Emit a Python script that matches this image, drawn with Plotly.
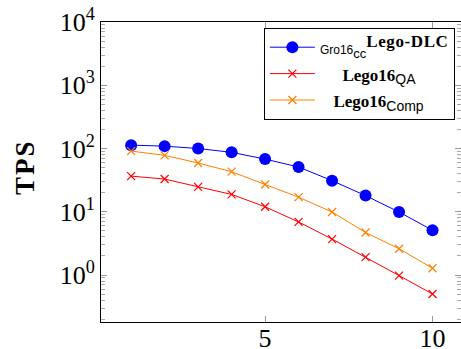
import plotly.graph_objects as go

x_vals = [1, 2, 3, 4, 5, 6, 7, 8, 9, 10]
dlc_tps = [113, 109, 100, 87, 68, 51, 31, 18, 9.9, 5.1]
qa_tps = [36.6, 32.9, 24.8, 18.8, 12.0, 6.9, 3.7, 1.92, 0.98, 0.5]
comp_tps = [91, 78, 59, 43, 27, 17, 9.9, 4.7, 2.6, 1.28]

y_major = [1, 10, 100, 1000, 10000]
y_major_text = ["10<sup>0</sup>", "10<sup>1</sup>", "10<sup>2</sup>", "10<sup>3</sup>", "10<sup>4</sup>"]
x_ticks = [5, 10]

minor_vals = [m * d for d in [0.1, 1, 10, 100, 1000] for m in range(2, 10)]

SANS = "Liberation Sans"
SERIF = "Liberation Serif"
NB = "\u00a0"

name_dlc = (f'<span style="font-family:{SANS};font-size:12px">Gro16</span>'
            f'<sub><span style="font-family:{SANS};font-size:13px">cc</span></sub>'
            f'<sup><span style="font-size:17px;letter-spacing:0.6px"><b>Lego-DLC</b></span></sup>')
name_qa = (NB * 5 + f'<span style="font-size:17px"><b>Lego16</b></span>'
           f'<sub><span style="font-family:{SANS};font-size:14px">QA</span></sub>')
name_comp = (NB * 3 + f'<span style="font-size:17px"><b>Lego16</b></span>'
             f'<sub><span style="font-family:{SANS};font-size:14px">Comp</span></sub>')

fig = go.Figure()
fig.add_trace(go.Scatter(
    x=x_vals, y=dlc_tps, mode="lines+markers", name=name_dlc,
    line=dict(color="#0000ff", width=1),
    marker=dict(symbol="circle", size=12, color="#0000ff"),
))
fig.add_trace(go.Scatter(
    x=x_vals, y=qa_tps, mode="lines+markers", name=name_qa,
    line=dict(color="#ff0000", width=1),
    marker=dict(symbol="x-thin", size=8, line=dict(color="#ff0000", width=1.2)),
))
fig.add_trace(go.Scatter(
    x=x_vals, y=comp_tps, mode="lines+markers", name=name_comp,
    line=dict(color="#ff8000", width=1),
    marker=dict(symbol="x-thin", size=8, line=dict(color="#ff8000", width=1.2)),
))

fig.add_annotation(
    text='<span style="letter-spacing:2px"><b>TPS</b></span>', xref="paper", yref="paper",
    x=(25 - 101) / 360, y=(322 - 167) / 300,
    xanchor="center", yanchor="middle", textangle=-90, showarrow=False,
    font=dict(family=SERIF, size=27, color="black"),
)

fig.update_layout(
    width=461, height=349,
    margin=dict(l=101, r=0, t=22, b=27, autoexpand=False),
    paper_bgcolor="white", plot_bgcolor="white",
    font=dict(family=SERIF, size=26, color="black"),
    showlegend=True,
    legend=dict(
        x=0.983, y=0.98, xanchor="right", yanchor="top",
        bgcolor="white", bordercolor="black", borderwidth=1,
        font=dict(family=SERIF, size=18, color="black"),
        tracegroupgap=0, itemwidth=45,
    ),
    xaxis=dict(
        range=[0.1, 10.85], tickmode="array", tickvals=x_ticks,
        ticks="inside", ticklen=6, tickcolor="#999999", tickwidth=1,
        showline=True, linecolor="black", linewidth=1, mirror="ticks",
        showgrid=False, zeroline=False, ticklabelstandoff=-7,
        tickfont=dict(family=SERIF, size=26),
    ),
    yaxis=dict(
        type="log", range=[-0.743, 4],
        tickmode="array", tickvals=y_major, ticktext=y_major_text,
        ticks="inside", ticklen=6, tickcolor="#999999", tickwidth=1,
        showline=True, linecolor="black", linewidth=1, mirror="ticks",
        showgrid=False, zeroline=False,
        tickfont=dict(family=SERIF, size=26),
        minor=dict(tickmode="array", tickvals=minor_vals, ticks="inside",
                   ticklen=4, tickcolor="#aaaaaa", tickwidth=1, showgrid=False),
    ),
)

fig.write_html("out.html", config={"displayModeBar": False},
               post_script="document.body.style.margin='0';")
